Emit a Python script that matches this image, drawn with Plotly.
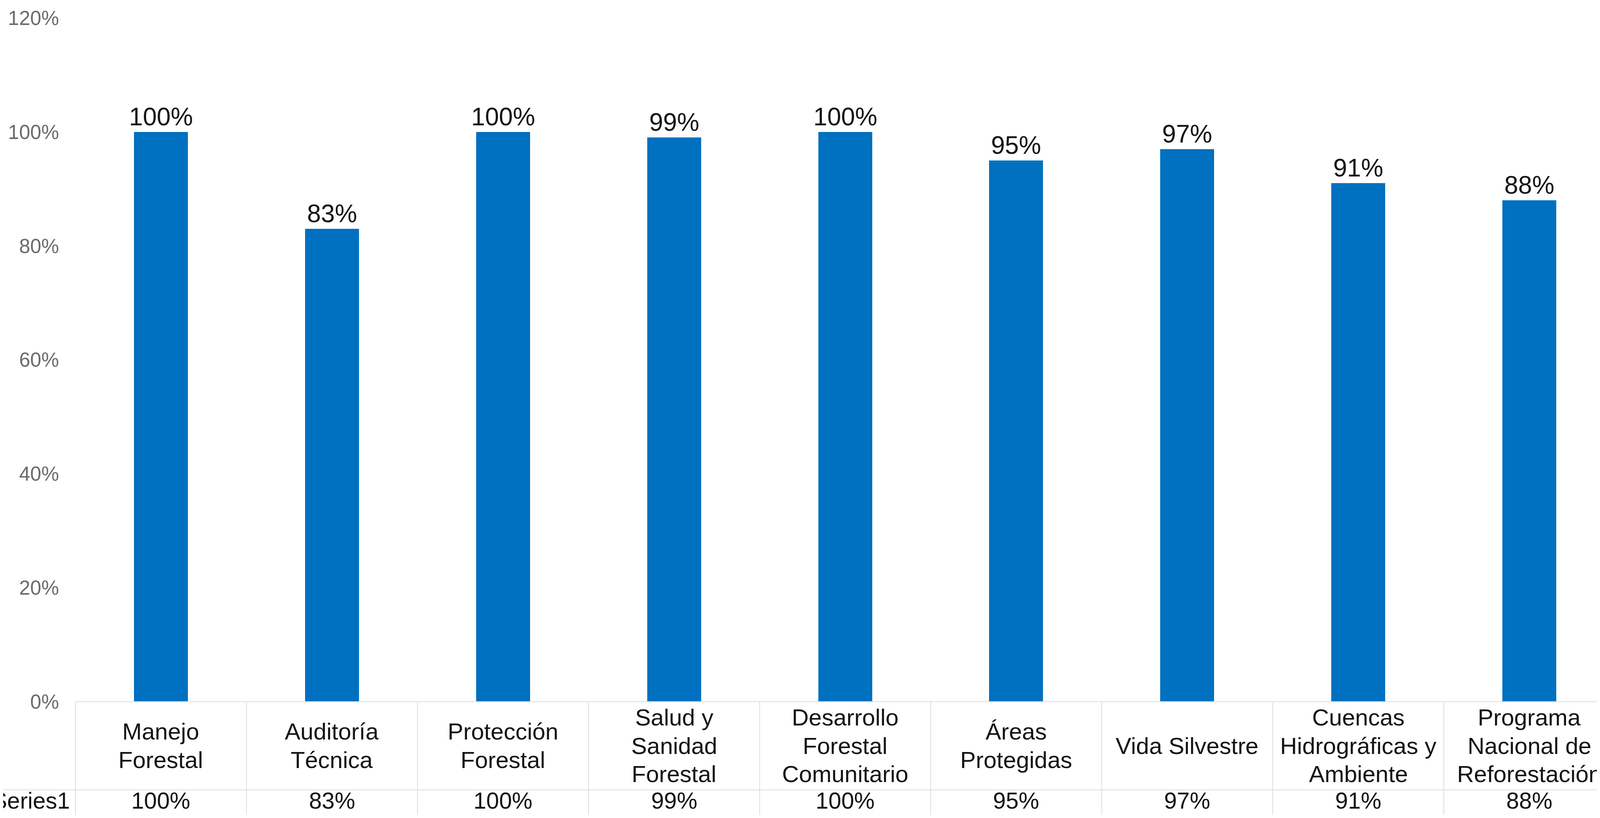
import plotly.graph_objects as go

categories = [
    ["Manejo", "Forestal"],
    ["Auditoría", "Técnica"],
    ["Protección", "Forestal"],
    ["Salud y", "Sanidad", "Forestal"],
    ["Desarrollo", "Forestal", "Comunitario"],
    ["Áreas", "Protegidas"],
    ["Vida Silvestre"],
    ["Cuencas", "Hidrográficas y", "Ambiente"],
    ["Programa", "Nacional de", "Reforestación"],
]
values = [100, 83, 100, 99, 100, 95, 97, 91, 88]
series_name = "Series1"
y_ticks = [0, 20, 40, 60, 80, 100, 120]

# The page viewport is 4096 wide with an 8px body margin; map the
# reference layout (4466 x 2095) onto it.
VIEW_W, VIEW_H = 4096, 2095
REF_W = 4466
SX = VIEW_W / REF_W
OFF = 8
W, H = VIEW_W - 2 * OFF, VIEW_H - 2 * OFF

def fx(xr):
    return xr * SX - OFF

def fy(yr):
    return yr - OFF

L = fx(210)
T = fy(46)
BOTTOM = fy(1797)
B = H - BOTTOM
R = 0
PW = W - L - R
PH = H - T - B
CAT_W = 477.5 * SX
x_max = -0.5 + PW / CAT_W

FONT = "Liberation Sans, Arial, sans-serif"
GRID = "#dddddd"
TXT = "#141414"

x = list(range(len(values)))
fig = go.Figure()
fig.add_trace(go.Bar(
    x=x, y=[v / 100 for v in values], width=0.315,
    marker=dict(color="#0070C0", line=dict(width=0)),
    text=[f"{v}%" for v in values], textposition="outside",
    constraintext="none",
    textfont=dict(family=FONT, size=64, color=TXT),
    cliponaxis=False, showlegend=False,
))

def py(yr):
    return (BOTTOM - fy(yr)) / PH

def pxx(xr):
    return (fx(xr) - L) / PW

annotations = []
shapes = []
row1_c = 1910
row2_c = 2051
line_h = 73
for i, lines in enumerate(categories):
    n = len(lines)
    for k, t in enumerate(lines):
        yc = row1_c + (k - (n - 1) / 2) * line_h
        annotations.append(dict(x=i, y=py(yc), xref="x", yref="paper", text=t,
                                showarrow=False, xanchor="center", yanchor="middle",
                                font=dict(family=FONT, size=60, color=TXT)))
    annotations.append(dict(x=i, y=py(row2_c), xref="x", yref="paper", text=f"{values[i]}%",
                            showarrow=False, xanchor="center", yanchor="middle",
                            font=dict(family=FONT, size=59, color=TXT)))
annotations.append(dict(x=pxx(197), y=py(row2_c), xref="paper", yref="paper", text=series_name,
                        showarrow=False, xanchor="right", yanchor="middle",
                        font=dict(family=FONT, size=59, color=TXT)))

# data-table borders
shapes.append(dict(type="line", xref="paper", yref="paper", x0=0, x1=1, y0=py(1797), y1=py(1797),
                   line=dict(color=GRID, width=2)))
shapes.append(dict(type="line", xref="paper", yref="paper", x0=pxx(0), x1=1, y0=py(2023), y1=py(2023),
                   line=dict(color=GRID, width=2)))
shapes.append(dict(type="line", xref="paper", yref="paper", x0=0, x1=0, y0=py(1797), y1=py(2110),
                   line=dict(color=GRID, width=2)))
for i in range(len(values) - 1):
    shapes.append(dict(type="line", xref="x", yref="paper", x0=i + 0.5, x1=i + 0.5,
                       y0=py(1797), y1=py(2110), line=dict(color=GRID, width=2)))

fig.update_layout(
    width=W, height=H,
    margin=dict(l=L, r=R, t=T, b=B, pad=0),
    paper_bgcolor="white", plot_bgcolor="white",
    font=dict(family=FONT),
    xaxis=dict(range=[-0.5, x_max], showticklabels=False, showgrid=False, zeroline=False,
               showline=False, ticks=""),
    yaxis=dict(range=[0, 1.2], tickvals=[t / 100 for t in y_ticks],
               ticktext=[f"{t}%" for t in y_ticks], showgrid=False, zeroline=False,
               showline=False, ticks="", ticklabelstandoff=41,
               tickfont=dict(family=FONT, size=51, color="#6b6b6b")),
    annotations=annotations, shapes=shapes,
    bargap=0,
)
fig.write_html("out.html")
